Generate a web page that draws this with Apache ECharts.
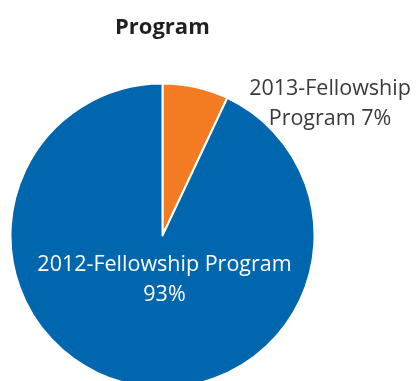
<!DOCTYPE html>
<html>
<head>
<meta charset="utf-8">
<script src="https://cdn.jsdelivr.net/npm/echarts@6/dist/echarts.min.js"></script>
<style>
  html, body { margin: 0; padding: 0; background: #ffffff; }
  #chart { width: 419px; height: 381px; }
</style>
</head>
<body>
<div id="chart"></div>
<script>
// Programme shares
const categories = ['2013-Fellowship Program', '2012-Fellowship Program'];
const shares = [7, 93];
const sliceColors = ['#f37b21', '#0066ae'];
const labelTexts = ['2013-Fellowship\nProgram 7%', '2012-Fellowship Program\n93%'];

const chart = echarts.init(document.getElementById('chart'), null, { renderer: 'canvas' });

const font = '"Open Sans", "Liberation Sans", sans-serif';

chart.setOption({
  backgroundColor: '#ffffff',
  animation: false,
  title: {
    text: 'Program',
    left: 115,
    top: 17,
    padding: 0,
    textStyle: { fontFamily: font, fontWeight: 'bold', fontSize: 22, color: '#231f20' }
  },
  series: [{
    type: 'pie',
    center: [162.5, 235.5],
    radius: [0, 152],
    startAngle: 90,
    clockwise: true,
    avoidLabelOverlap: false,
    itemStyle: { borderColor: '#ffffff', borderWidth: 2 },
    labelLine: { show: false },
    label: {
      fontFamily: font,
      fontSize: 21.5,
      lineHeight: 30,
      align: 'center'
    },
    labelLayout: function (p) {
      if (p.dataIndex === 0) {
        return { x: 330, y: 104, align: 'center', verticalAlign: 'middle' };
      }
      return { x: 164.5, y: 280, align: 'center', verticalAlign: 'middle' };
    },
    data: categories.map(function (name, i) {
      return {
        name: name,
        value: shares[i],
        itemStyle: { color: sliceColors[i] },
        label: {
          show: true,
          position: i === 0 ? 'outside' : 'inside',
          formatter: labelTexts[i],
          color: i === 0 ? '#3a3a3a' : '#ffffff'
        }
      };
    })
  }]
});
</script>
</body>
</html>
